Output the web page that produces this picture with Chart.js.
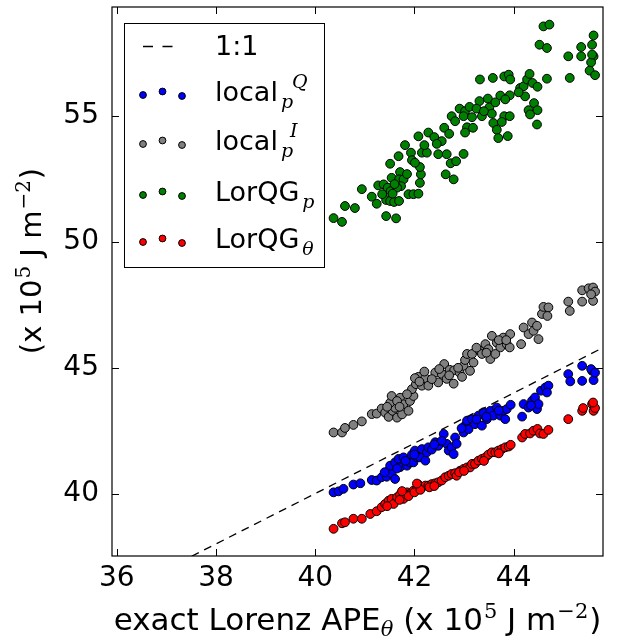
<!DOCTYPE html>
<html>
<head>
<meta charset="utf-8">
<script src="https://cdn.jsdelivr.net/npm/chart.js@4"></script>
<style>
  html, body { margin: 0; padding: 0; background: #fff; }
  canvas { display: block; }
</style>
</head>
<body>
<canvas id="apeChart" width="621" height="641"></canvas>
<script>
// tick values and the 1:1 reference line
const xTicks = [36, 38, 40, 42, 44];
const yTicks = [40, 45, 50, 55];
const oneToOne = [36, 46];

// values, [exact APE, estimate]
const localQ = [
  [40.37, 40.05], [40.47, 40.09], [40.57, 40.19], [40.77, 40.36], [40.91, 40.41], [41.14, 40.54],
  [41.24, 40.52], [41.34, 40.65], [41.44, 40.67], [41.48, 40.91], [41.54, 40.78], [41.61, 40.58],
  [41.51, 41.11], [41.61, 41.24], [41.68, 41.38], [41.71, 41.05], [41.78, 41.44], [41.85, 41.11],
  [41.91, 41.24], [41.95, 41.55], [42.01, 41.71], [41.98, 41.24], [42.05, 41.44], [42.11, 41.44],
  [42.15, 41.77], [42.22, 41.31], [42.25, 41.64], [42.28, 41.84], [42.42, 42.04], [42.48, 41.90],
  [42.59, 42.37], [42.65, 41.98], [42.69, 41.71], [42.75, 41.84], [42.79, 41.57], [42.82, 42.23],
  [42.85, 41.98], [42.99, 42.43], [43.02, 42.70], [43.06, 42.90], [43.09, 42.56], [43.16, 42.96],
  [43.22, 42.76], [43.29, 43.10], [43.36, 42.70], [43.39, 43.23], [43.46, 42.96], [43.53, 43.29],
  [43.59, 43.10], [43.66, 43.42], [43.73, 43.10], [43.79, 43.29], [43.86, 43.36], [43.94, 43.53],
  [43.83, 42.96], [44.17, 43.06], [44.20, 43.56], [44.30, 43.42], [44.37, 43.69], [44.43, 43.82],
  [44.47, 43.36], [44.50, 43.56], [44.55, 44.09], [44.64, 44.22], [44.70, 44.29], [44.67, 44.02],
  [45.10, 44.75], [45.14, 44.46], [45.38, 45.08], [45.38, 44.48], [45.58, 44.88], [45.61, 44.51],
  [45.56, 44.95], [45.64, 44.81], [41.40, 40.85], [41.65, 41.00], [41.82, 41.30], [42.00, 41.55],
  [42.35, 41.75], [42.55, 42.10], [42.95, 42.60], [43.25, 42.95], [43.45, 43.05], [43.70, 43.30],
  [44.35, 43.50], [42.40, 41.95]
];

const localI = [
  [40.37, 42.43], [40.54, 42.43], [40.60, 42.61], [40.77, 42.73], [40.94, 42.87], [41.14, 43.16],
  [41.24, 43.18], [41.34, 43.38], [41.41, 43.22], [41.48, 43.05], [41.56, 43.29], [41.65, 43.02],
  [41.61, 43.41], [41.51, 43.61], [41.54, 43.88], [41.71, 43.81], [41.78, 43.55], [41.65, 43.68],
  [41.75, 43.15], [41.88, 43.29], [41.91, 43.68], [41.98, 43.88], [41.95, 44.15], [42.03, 44.35],
  [42.08, 44.64], [42.15, 44.29], [42.01, 44.59], [42.22, 44.59], [42.28, 44.29], [42.42, 44.81],
  [42.48, 44.42], [42.55, 44.76], [42.60, 45.15], [42.65, 44.56], [42.71, 44.92], [42.79, 44.37],
  [42.80, 44.90], [42.91, 44.81], [42.96, 44.64], [42.99, 45.08], [43.02, 45.31], [43.06, 45.55],
  [43.16, 45.55], [43.19, 45.21], [43.12, 44.88], [43.32, 45.67], [43.43, 45.94], [43.49, 45.74],
  [43.56, 46.27], [43.66, 46.00], [43.73, 45.81], [43.79, 46.20], [43.86, 45.94], [43.93, 46.34],
  [43.92, 45.81], [43.53, 45.35], [43.63, 45.55], [43.36, 45.55], [44.15, 45.94], [44.20, 46.60],
  [44.30, 46.34], [44.37, 46.80], [44.40, 46.47], [44.47, 46.67], [44.50, 46.14], [44.57, 47.14],
  [44.60, 47.42], [44.70, 47.40], [44.68, 47.06], [45.10, 47.63], [45.13, 47.26], [45.38, 47.63],
  [45.38, 48.08], [45.51, 48.16], [45.60, 48.19], [45.64, 48.03], [45.60, 47.66], [45.56, 47.92],
  [41.45, 43.45], [41.70, 43.45], [41.85, 43.95], [42.10, 44.45], [42.35, 44.55], [42.50, 44.95],
  [42.70, 44.70], [42.88, 45.00], [43.25, 45.80], [43.45, 45.60], [43.70, 46.10], [43.85, 46.10],
  [42.20, 44.85]
];

const lorQGp = [
  [40.37, 50.95], [40.54, 50.80], [40.60, 51.43], [40.80, 51.35], [40.94, 52.10], [41.14, 51.80],
  [41.24, 51.52], [41.43, 51.03], [41.63, 50.94], [41.27, 52.25], [41.38, 52.29], [41.46, 52.16],
  [41.52, 52.02], [41.43, 51.67], [41.51, 51.63], [41.59, 51.59], [41.69, 51.63], [41.51, 53.11],
  [41.54, 52.55], [41.71, 52.78], [41.69, 52.49], [41.78, 52.49], [41.73, 52.22], [41.65, 52.16],
  [41.56, 51.92], [41.68, 53.41], [41.81, 53.85], [41.93, 53.55], [41.95, 53.25], [41.88, 51.90],
  [41.98, 51.90], [42.08, 51.92], [42.11, 52.35], [42.13, 52.69], [42.11, 52.98], [42.01, 53.15],
  [42.08, 54.20], [42.15, 53.55], [42.25, 53.55], [42.28, 54.35], [42.40, 54.17], [42.48, 53.49],
  [42.55, 54.01], [42.60, 54.54], [42.65, 53.49], [42.63, 52.69], [42.79, 52.49], [42.73, 53.13],
  [42.84, 53.21], [42.99, 53.50], [42.75, 55.00], [42.82, 54.80], [42.91, 55.30], [43.02, 55.20],
  [42.99, 55.00], [43.11, 55.37], [43.16, 54.96], [43.06, 54.56], [43.18, 54.54], [43.02, 54.35],
  [43.32, 56.46], [43.31, 55.60], [43.36, 55.00], [43.48, 55.70], [43.51, 55.35], [43.56, 55.10],
  [43.59, 54.73], [43.66, 54.46], [43.69, 54.13], [43.58, 56.52], [43.73, 55.82], [43.81, 56.58],
  [43.90, 56.65], [43.93, 56.46], [43.92, 55.83], [43.83, 55.67], [43.81, 55.00], [43.92, 55.00],
  [43.88, 54.21], [43.76, 54.77], [44.13, 56.12], [44.20, 56.19], [44.27, 56.46], [44.32, 56.68],
  [44.38, 56.32], [44.48, 56.17], [44.23, 55.79], [44.41, 55.52], [44.30, 55.24], [44.48, 55.24],
  [44.33, 55.07], [44.47, 54.67], [44.67, 56.49], [44.52, 57.84], [44.67, 57.71], [44.60, 58.57],
  [44.72, 58.64], [45.10, 57.38], [45.13, 56.52], [45.36, 57.75], [45.36, 57.38], [45.61, 58.21],
  [45.58, 57.84], [45.61, 57.38], [45.56, 57.14], [45.53, 56.81], [45.64, 56.63], [45.58, 57.45],
  [41.35, 51.90], [41.60, 52.30], [41.85, 52.70], [42.20, 53.85], [42.45, 53.90], [42.70, 54.30],
  [43.25, 55.30], [43.40, 55.20], [43.63, 55.55], [44.10, 55.95]
];

const lorQGtheta = [
  [40.37, 38.60], [40.54, 38.82], [40.60, 38.86], [40.77, 39.00], [40.94, 39.00], [41.11, 39.19],
  [41.24, 39.30], [41.34, 39.46], [41.41, 39.59], [41.48, 39.72], [41.54, 39.79], [41.58, 39.59],
  [41.65, 39.85], [41.71, 39.96], [41.78, 39.79], [41.85, 40.05], [41.91, 39.99], [41.98, 40.12],
  [42.05, 40.19], [42.08, 40.36], [42.15, 40.25], [42.22, 40.32], [42.28, 40.32], [42.35, 40.38],
  [42.42, 40.41], [42.48, 40.45], [42.55, 40.52], [42.62, 40.65], [42.69, 40.71], [42.75, 40.78],
  [42.82, 40.81], [42.85, 40.71], [42.92, 40.91], [42.99, 40.98], [43.06, 41.04], [43.12, 41.04],
  [43.16, 41.18], [43.22, 41.18], [43.29, 41.31], [43.36, 41.38], [43.43, 41.44], [43.49, 41.55],
  [43.56, 41.64], [43.63, 41.64], [43.69, 41.71], [43.76, 41.77], [43.83, 41.84], [43.90, 41.87],
  [43.94, 41.94], [41.45, 39.50], [41.70, 39.75], [41.88, 39.90], [42.00, 40.05], [42.12, 40.15],
  [42.30, 40.25], [42.40, 40.30], [42.90, 40.85], [43.00, 40.90], [43.40, 41.30], [43.70, 41.60],
  [41.75, 40.10], [42.05, 40.40], [44.17, 42.23], [44.23, 42.37], [44.33, 42.39], [44.40, 42.50],
  [44.48, 42.57], [44.53, 42.39], [44.60, 42.37], [44.70, 42.53], [45.10, 42.96], [45.38, 43.29],
  [45.40, 43.40], [45.58, 43.56], [45.61, 43.29], [45.64, 43.40], [45.60, 43.62]
];

const SANS = "'DejaVu Sans', sans-serif";
const SERIF = "'DejaVu Serif', serif";

function pts(arr) {
  return arr.map(p => ({ x: p[0], y: p[1] }));
}

function scatterSet(label, arr, color) {
  return {
    label: label,
    data: pts(arr),
    backgroundColor: color,
    borderColor: "#000",
    borderWidth: 1,
    pointRadius: 4.4,
    pointHoverRadius: 4.4
  };
}

// draws a run of text pieces, each with its own font and vertical shift
function drawRich(ctx, parts, x, y, align) {
  let total = 0;
  parts.forEach(p => {
    ctx.font = p.font;
    p.w = ctx.measureText(p.t).width;
    total += p.w + (p.gap || 0);
  });
  let cx = align === "center" ? x - total / 2 : x;
  parts.forEach(p => {
    ctx.font = p.font;
    cx += p.gap || 0;
    ctx.fillText(p.t, cx, y + (p.dy || 0));
    cx += p.w;
  });
  return cx;
}

function noEdgePadding(s) {
  s.paddingTop = 0;
  s.paddingBottom = 0;
  s.paddingLeft = 0;
  s.paddingRight = 0;
}

const framePlugin = {
  id: "framePlugin",
  afterDraw(chart) {
    const ctx = chart.ctx;
    const a = chart.chartArea;
    const xs = chart.scales.x;
    const ys = chart.scales.y;
    ctx.save();
    ctx.strokeStyle = "#000";
    ctx.lineWidth = 1.2;
    ctx.strokeRect(a.left, a.top, a.right - a.left, a.bottom - a.top);

    // inward ticks on all four sides
    ctx.lineWidth = 1;
    ctx.beginPath();
    xTicks.forEach(v => {
      const px = Math.round(xs.getPixelForValue(v)) + 0.5;
      ctx.moveTo(px, a.bottom); ctx.lineTo(px, a.bottom - 7);
      ctx.moveTo(px, a.top); ctx.lineTo(px, a.top + 7);
    });
    yTicks.forEach(v => {
      const py = Math.round(ys.getPixelForValue(v)) + 0.5;
      ctx.moveTo(a.left, py); ctx.lineTo(a.left + 7, py);
      ctx.moveTo(a.right, py); ctx.lineTo(a.right - 7, py);
    });
    ctx.stroke();

    // legend
    ctx.fillStyle = "#fff";
    ctx.fillRect(124, 23, 200, 244);
    ctx.strokeStyle = "#000";
    ctx.lineWidth = 1;
    ctx.strokeRect(124.5, 23.5, 200, 244);

    ctx.beginPath();
    ctx.setLineDash([10, 9.5]);
    ctx.lineWidth = 1.3;
    ctx.moveTo(143, 46.5);
    ctx.lineTo(173.5, 46.5);
    ctx.stroke();
    ctx.setLineDash([]);

    ctx.fillStyle = "#000";
    ctx.textBaseline = "alphabetic";
    ctx.textAlign = "left";
    const main = "27px " + SANS;
    const small = "italic 19px " + SERIF;
    ctx.font = main;
    ctx.fillText("1:1", 215, 55);

    const rows = [
      { base: 101, color: "#0000ff", parts: [{ t: "local", font: main }], sub: "p", sup: "Q" },
      { base: 150, color: "#808080", parts: [{ t: "local", font: main }], sub: "p", sup: "I" },
      { base: 201, color: "#008000", parts: [{ t: "LorQG", font: main }], sub: "p" },
      { base: 248, color: "#ff0000", parts: [{ t: "LorQG", font: main }], sub: "\u03B8" }
    ];
    rows.forEach(r => {
      [[143, -6], [162.5, -9.5], [182, -5]].forEach(m => {
        ctx.beginPath();
        ctx.arc(m[0], r.base + m[1], 3.4, 0, Math.PI * 2);
        ctx.fillStyle = r.color;
        ctx.fill();
        ctx.strokeStyle = "#000";
        ctx.lineWidth = 1;
        ctx.stroke();
      });
      ctx.fillStyle = "#000";
      const end = drawRich(ctx, r.parts, 215, r.base, "left");
      ctx.font = small;
      ctx.fillText(r.sub, end + 3, r.base + 7);
      if (r.sup) {
        ctx.fillText(r.sup, end + (r.sup === "Q" ? 14 : 12), r.base - 13);
      }
    });

    // x axis title
    const tf = "31px " + SANS;
    const tsub = "italic 21px " + SERIF;
    const tsup = "21px " + SERIF;
    drawRich(ctx, [
      { t: "exact Lorenz APE", font: tf },
      { t: "\u03B8", font: tsub, dy: 6 },
      { t: " (x 10", font: tf },
      { t: "5", font: tsup, dy: -12, gap: 1 },
      { t: " J m", font: tf },
      { t: "\u22122", font: tsup, dy: -12, gap: 1 },
      { t: ")", font: tf, gap: 1 }
    ], (a.left + a.right) / 2, 630, "center");

    // y axis title, rotated
    const yf = "29px " + SANS;
    const ysup = "20px " + SERIF;
    ctx.save();
    ctx.translate(41, 261);
    ctx.rotate(-Math.PI / 2);
    drawRich(ctx, [
      { t: "(x 10", font: yf },
      { t: "5", font: ysup, dy: -11, gap: 1 },
      { t: " J m", font: yf },
      { t: "\u22122", font: ysup, dy: -11, gap: 1 },
      { t: ")", font: yf, gap: 1 }
    ], 0, 0, "center");
    ctx.restore();

    ctx.restore();
  }
};

new Chart(document.getElementById("apeChart"), {
  type: "scatter",
  data: {
    datasets: [
      {
        type: "line",
        label: "1:1",
        data: oneToOne.map(v => ({ x: v, y: v })),
        borderColor: "#000",
        borderWidth: 1.3,
        borderDash: [8, 6],
        pointRadius: 0,
        fill: false
      },
      scatterSet("localQ", localQ, "#0000ff"),
      scatterSet("localI", localI, "#808080"),
      scatterSet("LorQGp", lorQGp, "#008000"),
      scatterSet("LorQGtheta", lorQGtheta, "#ff0000")
    ]
  },
  options: {
    responsive: false,
    animation: false,
    layout: { padding: { top: 7, right: 18, left: 0, bottom: 0 } },
    plugins: {
      legend: { display: false },
      tooltip: { enabled: false }
    },
    scales: {
      x: {
        type: "linear",
        min: 35.905,
        max: 45.8,
        grid: { display: false, drawTicks: false },
        border: { display: false },
        ticks: {
          color: "#000",
          font: { family: SANS, size: 28 },
          padding: 6
        },
        afterBuildTicks: s => { s.ticks = xTicks.map(v => ({ value: v })); },
        afterFit: s => { s.height = 85; noEdgePadding(s); }
      },
      y: {
        type: "linear",
        min: 37.52,
        max: 59.34,
        grid: { display: false, drawTicks: false },
        border: { display: false },
        ticks: {
          color: "#000",
          font: { family: SANS, size: 28 },
          padding: 13
        },
        afterBuildTicks: s => { s.ticks = yTicks.map(v => ({ value: v })); },
        afterFit: s => { s.width = 112; noEdgePadding(s); }
      }
    }
  },
  plugins: [framePlugin]
});
</script>
</body>
</html>
